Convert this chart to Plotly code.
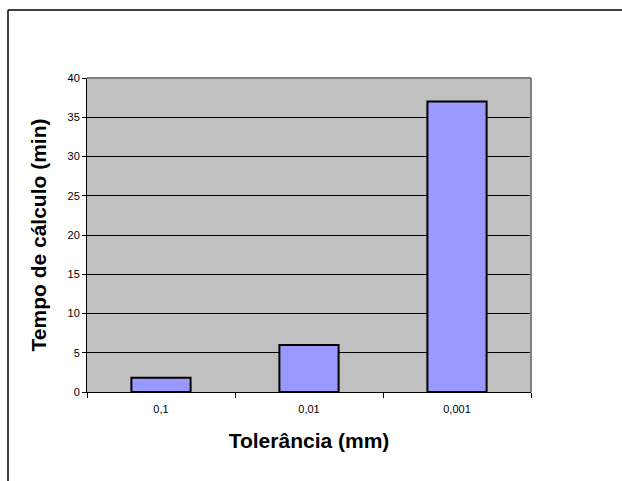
import plotly.graph_objects as go

categories = ["0,1", "0,01", "0,001"]
values = [1.8, 6.0, 37.0]
y_ticks = [0, 5, 10, 15, 20, 25, 30, 35, 40]

fig = go.Figure()
fig.add_trace(go.Bar(
    x=categories, y=values,
    marker=dict(color="#9999FF", line=dict(color="black", width=2)),
    width=0.40,
))

L, R, T, B = 87, 91, 78, 89
W, H = 622, 481
pw, ph = W - L - R, H - T - B

def px2x(p):
    return (p - L) / pw

def py2y(p):
    return (H - B - p) / ph

fig.update_layout(
    width=W, height=H,
    margin=dict(l=L, r=R, t=T, b=B),
    paper_bgcolor="white",
    plot_bgcolor="#C0C0C0",
    showlegend=False,
    font=dict(family="Liberation Sans, Arial", color="black", size=11),
    xaxis=dict(
        type="category",
        range=[-0.5, 2.5],
        showgrid=False,
        ticks="outside", ticklen=5, tickcolor="black",
        tickson="boundaries",
        ticklabelstandoff=7,
        showline=True, linecolor="black", linewidth=1,
        tickfont=dict(size=11),
        title=dict(text="<b>Tolerância (mm)</b>", font=dict(size=21), standoff=19),
    ),
    yaxis=dict(
        range=[0, 40],
        tickvals=y_ticks,
        showgrid=True, gridcolor="black", gridwidth=1,
        ticks="outside", ticklen=4, tickcolor="black",
        showline=True, linecolor="black", linewidth=1,
        zeroline=False,
        tickfont=dict(size=11),
        title=dict(text="<b>Tempo de cálculo (min)</b>", font=dict(size=21), standoff=15),
    ),
    shapes=[
        dict(type="line", xref="paper", yref="paper", x0=0, x1=1, y0=1, y1=1,
             line=dict(color="#808080", width=2)),
        dict(type="line", xref="paper", yref="paper", x0=1, x1=1, y0=0, y1=1,
             line=dict(color="#808080", width=2)),
        dict(type="line", xref="paper", yref="paper",
             x0=px2x(8), x1=px2x(630), y0=py2y(10), y1=py2y(10),
             line=dict(color="black", width=1.5)),
        dict(type="line", xref="paper", yref="paper",
             x0=px2x(8), x1=px2x(8), y0=py2y(10), y1=py2y(490),
             line=dict(color="black", width=1.5)),
    ],
)

fig.write_html("out.html")
